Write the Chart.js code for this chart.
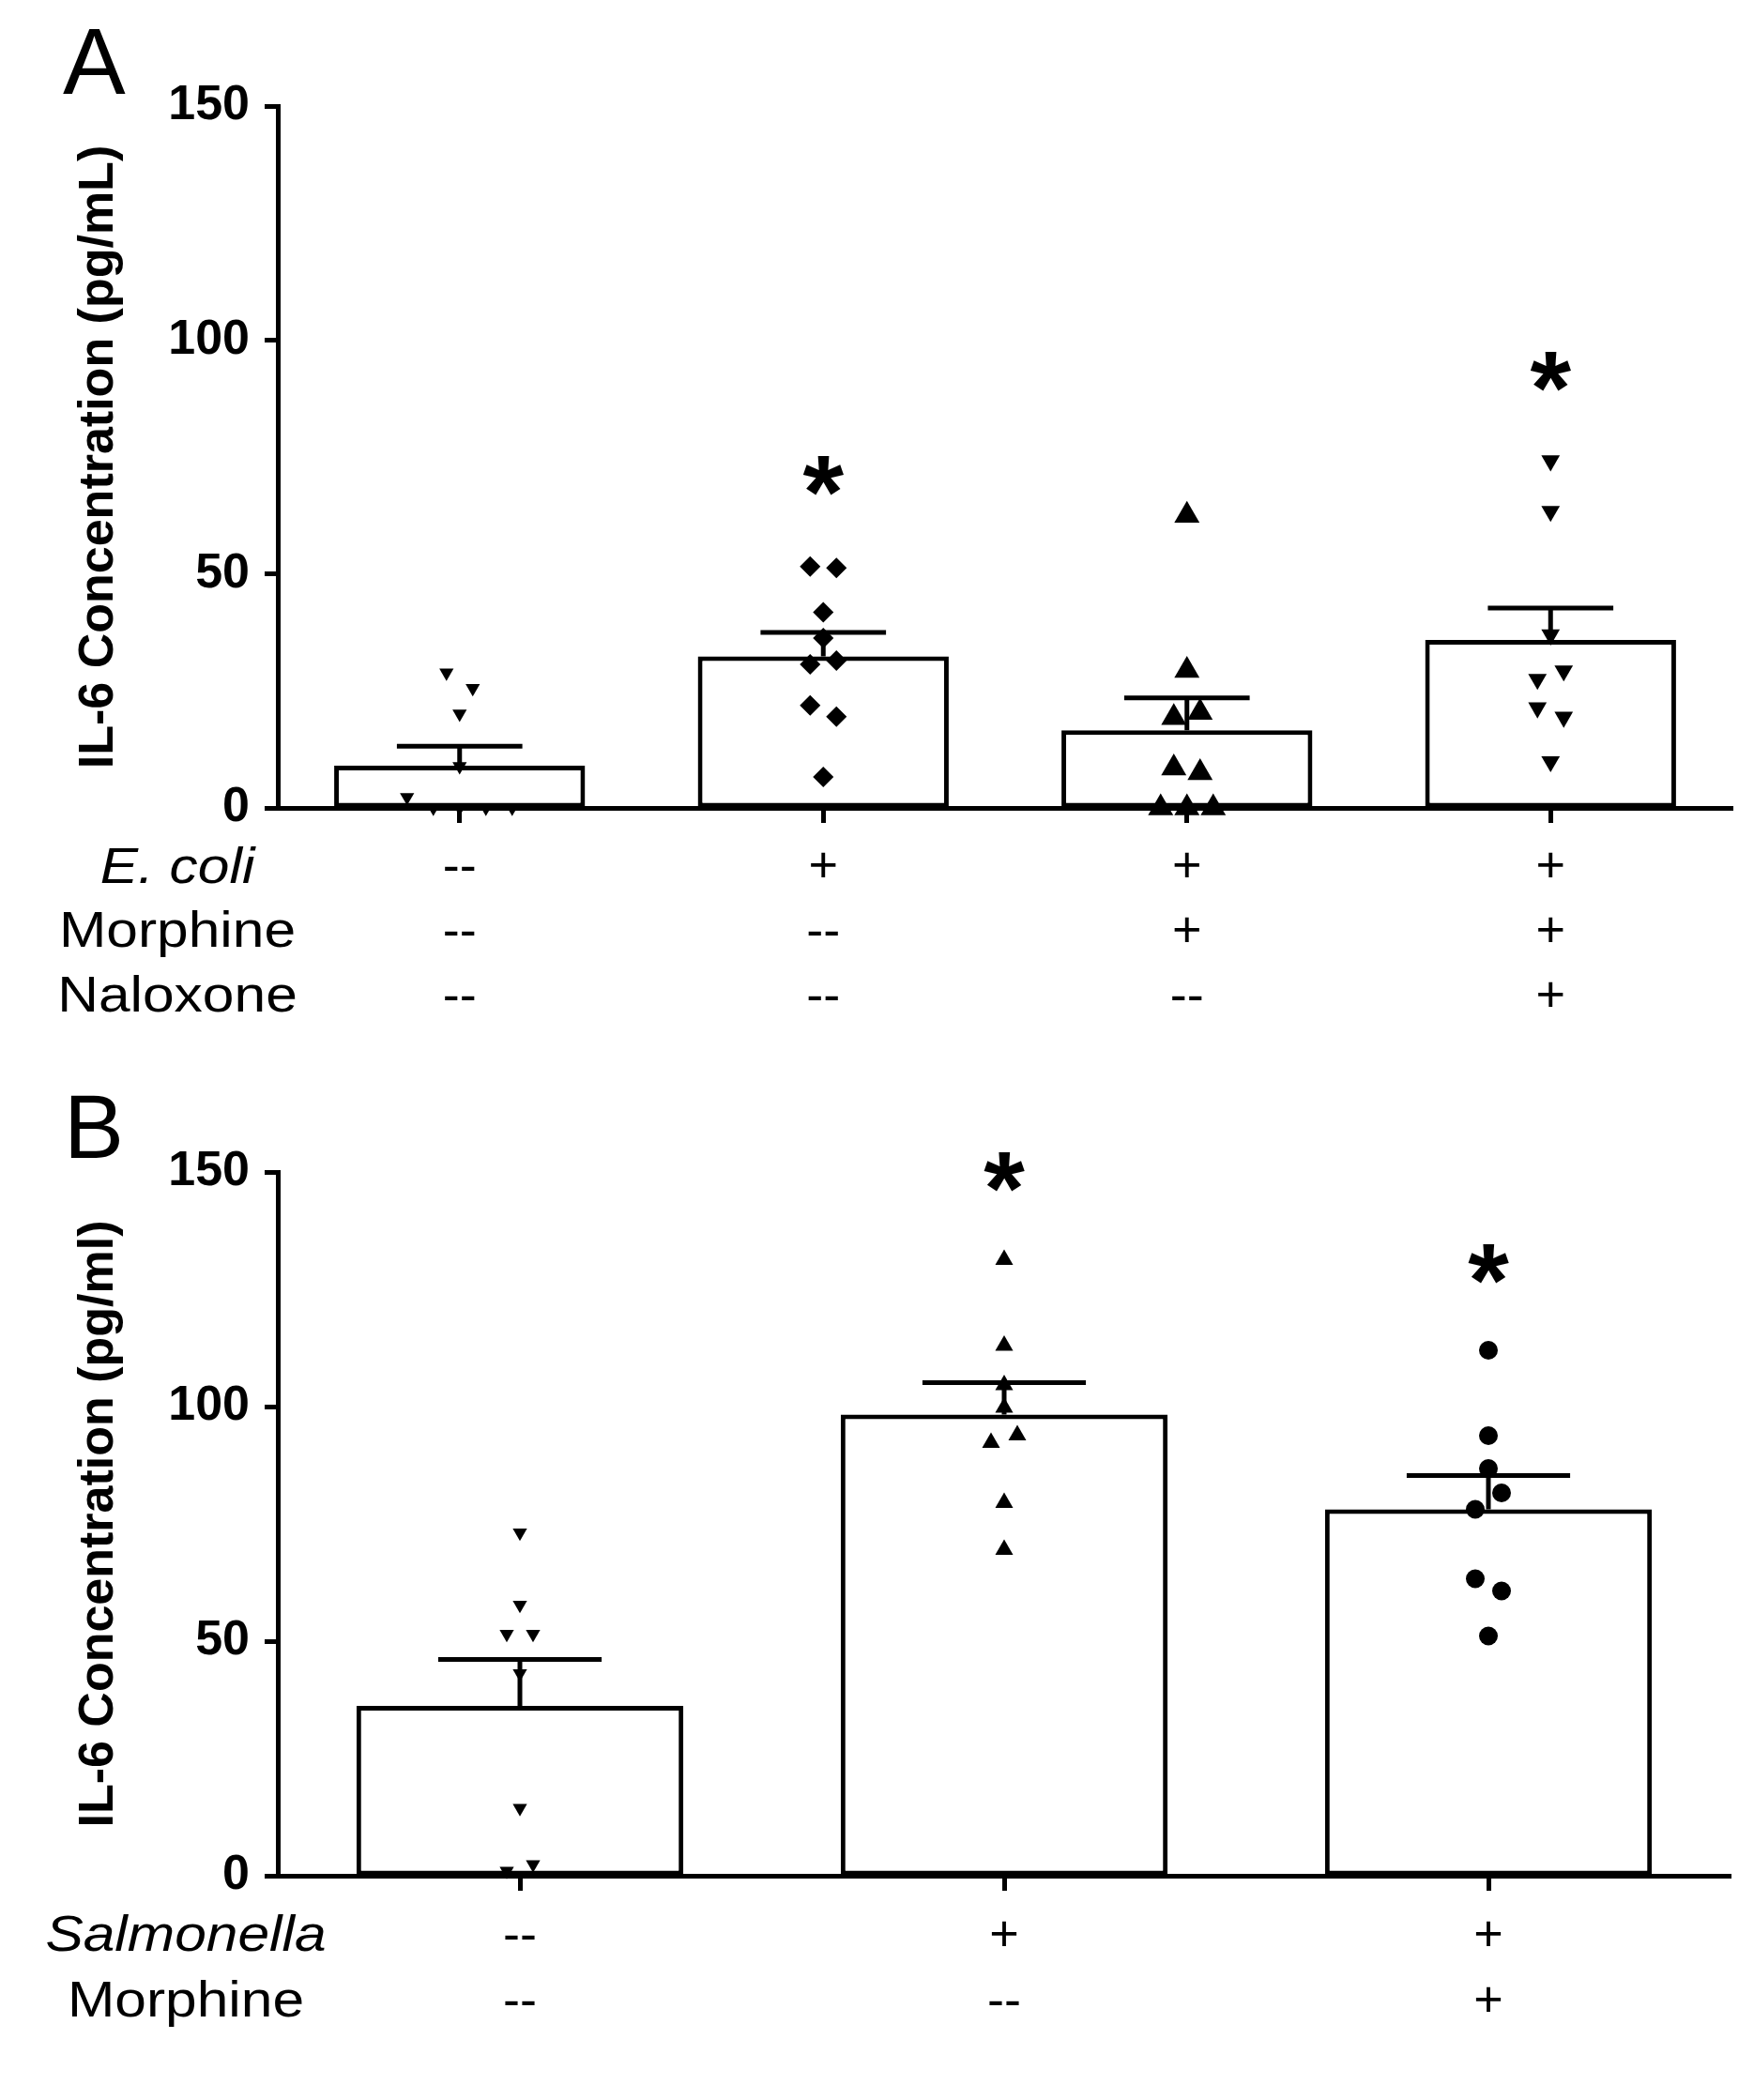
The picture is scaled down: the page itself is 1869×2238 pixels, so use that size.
<!DOCTYPE html>
<html>
<head>
<meta charset="utf-8">
<title>IL-6 concentration</title>
<script src="https://cdn.jsdelivr.net/npm/chart.js@4.4.1/dist/chart.umd.min.js"></script>
<style>
  body { margin: 0; background: #fff; }
  canvas { display: block; }
</style>
</head>
<body>
<canvas id="chartA" width="1869" height="1120"></canvas>
<canvas id="chartB" width="1869" height="1118"></canvas>
<script>
// Panel A - E. coli
const rowNamesA = ['E. coli', 'Morphine', 'Naloxone'];
const ecoliRow = ['--', '+', '+', '+'];
const morphineRowA = ['--', '--', '+', '+'];
const naloxoneRow = ['--', '--', '--', '+'];
const meansA = [9.0, 32.4, 16.6, 35.9];
const semA = [4.2, 5.1, 6.9, 6.8];
const pointsA = [
    [28.9, 25.6, 20.1, 8.9, 2.3, 0, 0, 0, 0],
    [51.6, 51.3, 41.8, 36.3, 30.7, 31.5, 21.9, 19.5, 6.6],
    [62.5, 29.4, 19.3, 20.4, 8.5, 7.5, 0, 0, 0],
    [74.2, 63.4, 37.0, 27.5, 29.3, 21.4, 19.4, 9.9]
];
const starsA = [null, 71, null, 93.2];

// Panel B - Salmonella
const rowNamesB = ['Salmonella', 'Morphine'];
const salmonellaRow = ['--', '+', '+'];
const morphineRowB = ['--', '--', '+'];
const meansB = [36.2, 98.3, 78.1];
const semB = [9.9, 6.8, 7.2];
const pointsB = [
    [73.1, 57.7, 51.5, 51.5, 43.1, 14.4, 1.0, 2.4],
    [131.3, 113.0, 104.6, 99.8, 92.3, 93.9, 79.5, 69.5],
    [112.0, 93.8, 86.8, 78.1, 81.6, 63.3, 60.7, 51.1]
];
const starsB = [null, 150, 130.4];

const yTicks = [0, 50, 100, 150];

const FONT = "'Liberation Sans', Arial, sans-serif";
const AXIS_WIDTH = 296;
const LANE_PX = 28;
const LINE = 5;

Chart.defaults.font.family = FONT;
Chart.defaults.color = '#000';

// points that sit close together are spread sideways, like a column scatter
function spreadPoints(values, center, step) {
    const order = values.map((v, i) => i).sort((a, b) => values[b] - values[a]);
    const groups = [];
    order.forEach(i => {
        const g = groups[groups.length - 1];
        if (g && values[g[0]] - values[i] < 4.5) {
            g.push(i);
        } else {
            groups.push([i]);
        }
    });
    const xs = [];
    groups.forEach(g => {
        g.sort((a, b) => a - b);
        g.forEach((i, k) => {
            xs[i] = center + (k - (g.length - 1) / 2) * step;
        });
    });
    return values.map((v, i) => ({ x: xs[i], y: v }));
}

function makePanel(id, cfg) {
    const canvas = document.getElementById(id);
    const n = cfg.means.length;
    const plotWidth = canvas.width - AXIS_WIDTH - cfg.padRight;
    const step = LANE_PX / (plotWidth / n);
    const labels = cfg.rows[0].map((v, i) => cfg.rows.map(r => r[i]));

    const pointSets = cfg.points.map((vals, i) => ({
        type: 'scatter',
        xAxisID: 'xp',
        data: spreadPoints(vals, i, step),
        pointStyle: cfg.markers[i].style,
        pointRotation: cfg.markers[i].rotation || 0,
        pointRadius: cfg.markers[i].radius,
        pointHoverRadius: cfg.markers[i].radius,
        pointBackgroundColor: '#000',
        pointBorderColor: '#000',
        pointBorderWidth: 0,
        clip: false,
        order: 1
    }));

    const extras = {
        id: 'extras',
        afterDatasetDraw(chart, args) {
            if (args.index !== 0) return;
            const ctx = chart.ctx;
            const y = chart.scales.y;
            const bars = chart.getDatasetMeta(0).data;
            ctx.save();
            ctx.strokeStyle = '#000';
            ctx.lineWidth = LINE;
            bars.forEach((bar, i) => {
                const top = y.getPixelForValue(cfg.means[i] + cfg.sem[i]);
                const half = bar.width / 4;
                ctx.beginPath();
                ctx.moveTo(bar.x, y.getPixelForValue(cfg.means[i]));
                ctx.lineTo(bar.x, top);
                ctx.moveTo(bar.x - half, top);
                ctx.lineTo(bar.x + half, top);
                ctx.stroke();
            });
            ctx.restore();
        },
        afterDraw(chart) {
            const ctx = chart.ctx;
            const x = chart.scales.x;
            const y = chart.scales.y;
            const xo = chart.options.scales.x;
            ctx.save();
            ctx.fillStyle = '#000';

            // significance stars
            ctx.font = 'bold 112px ' + FONT;
            ctx.textAlign = 'center';
            ctx.textBaseline = 'alphabetic';
            const m = ctx.measureText('*');
            cfg.stars.forEach((s, i) => {
                if (s === null) return;
                const py = y.getPixelForValue(s) + (m.actualBoundingBoxAscent - m.actualBoundingBoxDescent) / 2;
                ctx.fillText('*', x.getPixelForValue(i), py);
            });

            // treatment row names, level with the tick label rows
            const lh = parseFloat(xo.ticks.font.lineHeight);
            const start = x.top + xo.grid.tickLength + xo.ticks.padding + lh / 2;
            ctx.textBaseline = 'middle';
            cfg.rowNames.forEach((name, r) => {
                ctx.save();
                ctx.translate(cfg.rowLabelX, start + r * lh);
                ctx.scale(1.12, 1);
                ctx.font = (r === 0 ? 'italic ' : '') + '54px ' + FONT;
                ctx.fillText(name, 0, 0);
                ctx.restore();
            });

            // panel letter
            ctx.textAlign = 'left';
            ctx.textBaseline = 'alphabetic';
            ctx.font = cfg.letterSize + 'px ' + FONT;
            ctx.fillText(cfg.letter, cfg.letterX, cfg.letterY);
            ctx.restore();
        }
    };

    return new Chart(canvas, {
        type: 'bar',
        data: {
            labels: labels,
            datasets: [{
                type: 'bar',
                data: cfg.means,
                backgroundColor: '#fff',
                borderColor: '#000',
                borderWidth: LINE,
                borderSkipped: false,
                grouped: false,
                barPercentage: cfg.barPct,
                categoryPercentage: 1,
                order: 2
            }].concat(pointSets)
        },
        options: {
            responsive: false,
            devicePixelRatio: 1,
            animation: false,
            events: [],
            layout: { padding: { top: cfg.padTop, right: cfg.padRight, bottom: 0, left: 0 } },
            plugins: { legend: { display: false }, tooltip: { enabled: false } },
            scales: {
                x: {
                    type: 'category',
                    offset: true,
                    grid: { offset: false, drawOnChartArea: false, drawTicks: true, tickLength: 16, tickWidth: LINE, tickColor: '#000' },
                    border: { color: '#000', width: LINE },
                    ticks: { color: '#000', font: { size: 54, lineHeight: cfg.rowGap + 'px' }, padding: 14, maxRotation: 0, autoSkip: false },
                    afterFit: s => { s.height = cfg.xAxisHeight; }
                },
                xp: { type: 'linear', display: false, offset: false, min: -0.5, max: n - 0.5 },
                y: {
                    min: 0,
                    max: 150,
                    afterBuildTicks: s => { s.ticks = yTicks.map(v => ({ value: v })); },
                    grid: { drawOnChartArea: false, drawTicks: true, tickLength: 14, tickWidth: LINE, tickColor: '#000' },
                    border: { color: '#000', width: LINE },
                    ticks: { color: '#000', font: { size: 52, weight: 'bold' }, padding: 16 },
                    title: {
                        display: true,
                        text: cfg.yTitle,
                        color: '#000',
                        font: { size: 52, weight: 'bold' },
                        padding: { top: 74, bottom: 0 }
                    },
                    afterFit: s => { s.width = AXIS_WIDTH; }
                }
            }
        },
        plugins: [extras]
    });
}

makePanel('chartA', {
    means: meansA,
    sem: semA,
    points: pointsA,
    stars: starsA,
    rows: [ecoliRow, morphineRowA, naloxoneRow],
    rowNames: rowNamesA,
    rowLabelX: 189,
    rowGap: 69,
    markers: [
        { style: 'triangle', rotation: 180, radius: 8.8 },
        { style: 'rectRot', radius: 11 },
        { style: 'triangle', radius: 15.5 },
        { style: 'triangle', rotation: 180, radius: 11.4 }
    ],
    barPct: 0.69,
    padTop: 113,
    padRight: 23,
    xAxisHeight: 259,
    yTitle: 'IL-6 Concentration (pg/mL)',
    letter: 'A',
    letterSize: 100,
    letterX: 67,
    letterY: 100
});

makePanel('chartB', {
    means: meansB,
    sem: semB,
    points: pointsB,
    stars: starsB,
    rows: [salmonellaRow, morphineRowB],
    rowNames: rowNamesB,
    rowLabelX: 198,
    rowGap: 70,
    markers: [
        { style: 'triangle', rotation: 180, radius: 8.8 },
        { style: 'triangle', radius: 11 },
        { style: 'circle', radius: 10 }
    ],
    barPct: 0.675,
    padTop: 129,
    padRight: 25,
    xAxisHeight: 239,
    yTitle: 'IL-6 Concentration (pg/ml)',
    letter: 'B',
    letterSize: 96,
    letterX: 68,
    letterY: 114
});
</script>
</body>
</html>
